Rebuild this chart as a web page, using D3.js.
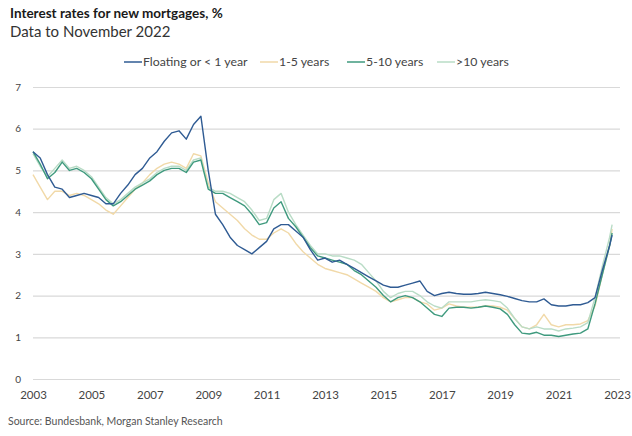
<!DOCTYPE html>
<html>
<head>
<meta charset="utf-8">
<script src="https://cdn.jsdelivr.net/npm/d3@7/dist/d3.min.js"></script>
<style>
  html, body { margin: 0; padding: 0; background: #fff; }
  svg { display: block; font-family: Lato, "Open Sans", sans-serif; }
</style>
</head>
<body>
<svg id="chart" width="632" height="436"></svg>
<script>
// Quarterly observations from Jan 2003 (month 0) to Oct 2022, plus Nov 2022
const monthIndex = d3.range(0, 238, 3).concat([238]);

const floating = [
  5.45, 5.3, 4.9, 4.6, 4.55, 4.35, 4.4, 4.45, 4.4, 4.35,
  4.2, 4.2, 4.45, 4.65, 4.9, 5.05, 5.3, 5.45, 5.7, 5.9,
  5.95, 5.75, 6.1, 6.3, 5.0, 3.95, 3.7, 3.4, 3.2, 3.1,
  3.0, 3.15, 3.3, 3.6, 3.7, 3.7, 3.55, 3.4, 3.1, 2.85,
  2.9, 2.8, 2.85, 2.75, 2.65, 2.55, 2.45, 2.35, 2.25, 2.2,
  2.2, 2.25, 2.3, 2.35, 2.1, 2.0, 2.05, 2.08, 2.05, 2.03,
  2.03, 2.05, 2.08, 2.05, 2.02, 1.98, 1.93, 1.88, 1.85, 1.85,
  1.92, 1.78, 1.75, 1.75, 1.78, 1.78, 1.83, 1.95, 2.6, 3.2,
  3.45
];

const years1to5 = [
  4.9, 4.6, 4.3, 4.5, 4.5, 4.4, 4.45, 4.4, 4.3, 4.2,
  4.05, 3.95, 4.15, 4.35, 4.55, 4.7, 4.9, 5.05, 5.15, 5.2,
  5.15, 5.05, 5.4, 5.35, 4.7, 4.25, 4.1, 3.95, 3.8, 3.6,
  3.45, 3.35, 3.35, 3.5, 3.6, 3.5, 3.25, 3.05, 2.9, 2.75,
  2.65, 2.6, 2.55, 2.5, 2.4, 2.3, 2.2, 2.1, 1.95, 1.85,
  1.9, 1.95, 1.95, 1.85, 1.8, 1.65, 1.7, 1.8, 1.75, 1.72,
  1.72, 1.72, 1.75, 1.75, 1.72, 1.65, 1.45, 1.25, 1.2, 1.3,
  1.55, 1.3, 1.25, 1.3, 1.3, 1.32, 1.4, 1.75, 2.5, 3.2,
  3.6
];

const years5to10 = [
  5.45, 5.15, 4.8, 4.95, 5.2, 5.0, 5.05, 4.95, 4.8, 4.55,
  4.3, 4.15, 4.25, 4.4, 4.55, 4.65, 4.75, 4.9, 5.0, 5.05,
  5.05, 4.95, 5.2, 5.25, 4.55, 4.45, 4.45, 4.35, 4.25, 4.15,
  3.95, 3.7, 3.75, 4.1, 4.25, 3.85, 3.65, 3.4, 3.15, 2.95,
  2.9, 2.85, 2.8, 2.75, 2.6, 2.5, 2.35, 2.2, 2.0, 1.85,
  1.95, 2.0, 1.95, 1.85, 1.7, 1.55, 1.5, 1.7, 1.72, 1.72,
  1.7, 1.72, 1.75, 1.72, 1.68, 1.55, 1.3, 1.1, 1.08, 1.12,
  1.05, 1.05, 1.02, 1.05, 1.08, 1.1, 1.2, 1.8, 2.5, 3.2,
  3.5
];

const yearsOver10 = [
  5.4, 5.1, 4.85, 5.05, 5.25, 5.05, 5.1, 5.0, 4.85, 4.6,
  4.35, 4.2, 4.3, 4.45, 4.6, 4.7, 4.8, 4.95, 5.05, 5.1,
  5.1, 5.0, 5.25, 5.3, 4.6, 4.5, 4.5, 4.45, 4.35, 4.25,
  4.05, 3.8, 3.85, 4.3, 4.45, 4.0, 3.7, 3.45, 3.2, 3.0,
  3.0, 2.95, 2.95, 2.9, 2.85, 2.75, 2.55, 2.35, 2.1, 1.95,
  2.05, 2.1, 2.1, 2.0, 1.85, 1.75, 1.7, 1.85, 1.85, 1.85,
  1.85, 1.88, 1.9, 1.88, 1.85, 1.7, 1.45, 1.25, 1.2, 1.25,
  1.2, 1.2, 1.15, 1.2, 1.22, 1.25, 1.35, 1.95, 2.7, 3.4,
  3.7
];

const seriesNames = ["Floating or < 1 year", "1-5 years", "5-10 years", ">10 years"];
const seriesColors = ["#2f5b93", "#f1d9a8", "#3f9a7e", "#b9dcc6"];
const seriesValues = [floating, years1to5, years5to10, yearsOver10];

const yTicks = [0, 1, 2, 3, 4, 5, 6, 7];
const xTickYears = [2003, 2005, 2007, 2009, 2011, 2013, 2015, 2017, 2019, 2021, 2023];

const svg = d3.select("#chart");

const x = d3.scaleTime()
  .domain([new Date(2003, 0, 1), new Date(2023, 0, 1)])
  .range([33, 617]);
const y = d3.scaleLinear().domain([0, 7]).range([379, 87]);

// Title block
svg.append("text").attr("x", 10).attr("y", 18)
  .attr("font-size", 13.5).attr("font-weight", 700).attr("fill", "#1a1a1a")
  .text("Interest rates for new mortgages, %");
svg.append("text").attr("x", 10).attr("y", 37)
  .attr("font-size", 15).attr("fill", "#333")
  .text("Data to November 2022");

// Gridlines
svg.append("g")
  .attr("transform", "translate(33,0)")
  .call(d3.axisLeft(y).tickValues(yTicks).tickSize(-587).tickFormat(""))
  .call(g => g.select(".domain").remove())
  .call(g => g.selectAll("line").attr("stroke", "#d9d9d9").attr("stroke-width", 1.2));

// Y tick labels
svg.append("g")
  .attr("transform", "translate(21,0)")
  .call(d3.axisLeft(y).tickValues(yTicks).tickSize(0).tickPadding(0).tickFormat(d3.format("d")))
  .call(g => g.select(".domain").remove())
  .call(g => g.selectAll("text")
    .attr("font-family", "Lato, sans-serif").attr("font-size", 10).attr("fill", "#444")
    .attr("text-anchor", "end"));

// X tick labels
svg.append("g")
  .attr("transform", "translate(0,388)")
  .call(d3.axisBottom(x)
    .tickValues(xTickYears.map(yr => new Date(yr, 0, 1)))
    .tickSize(0).tickPadding(3)
    .tickFormat(d3.timeFormat("%Y")))
  .call(g => g.select(".domain").remove())
  .call(g => g.selectAll("text")
    .attr("font-family", "Lato, sans-serif").attr("font-size", 11.5).attr("fill", "#444"));

// Series lines
const line = d3.line()
  .x((d, i) => x(new Date(2003, monthIndex[i], 1)))
  .y(d => y(d));

// draw pale series first so darker lines stay on top
const drawOrder = [1, 3, 2, 0];
drawOrder.forEach(k => {
  svg.append("path")
    .datum(seriesValues[k])
    .attr("fill", "none")
    .attr("stroke", seriesColors[k])
    .attr("stroke-width", 1.4)
    .attr("stroke-linejoin", "round")
    .attr("d", line);
});

// Legend
const legendX = [124, 260, 347, 437];
const legend = svg.append("g").attr("font-size", 12.3).attr("fill", "#444");
seriesNames.forEach((name, k) => {
  legend.append("line")
    .attr("x1", legendX[k]).attr("x2", legendX[k] + 18)
    .attr("y1", 62).attr("y2", 62)
    .attr("stroke", seriesColors[k]).attr("stroke-width", 1.5);
  legend.append("text")
    .attr("x", legendX[k] + 19).attr("y", 66)
    .text(name);
});

// Source note
svg.append("text").attr("x", 8).attr("y", 425)
  .attr("font-size", 10.5).attr("fill", "#555")
  .text("Source: Bundesbank, Morgan Stanley Research");
</script>
</body>
</html>
